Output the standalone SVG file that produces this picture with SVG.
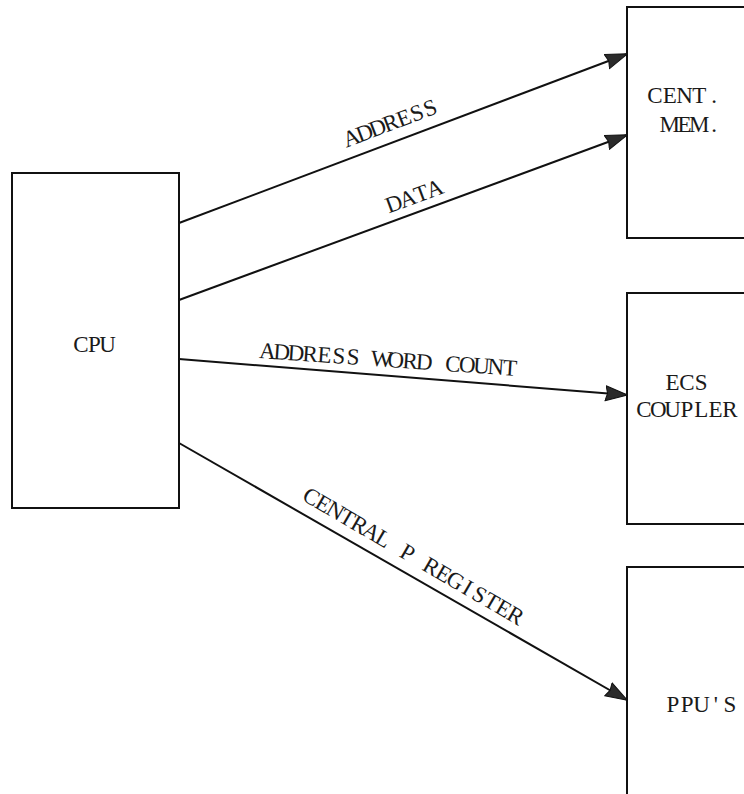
<svg xmlns="http://www.w3.org/2000/svg" width="744" height="794" viewBox="0 0 744 794">
  <style>
    .box { fill: #ffffff; stroke: #111111; stroke-width: 2; }
    .lbl { font-family: "Liberation Serif", "DejaVu Serif", serif; font-size: 23px; fill: #1a1a1a; text-anchor: middle; }
    .wire { stroke: #111111; stroke-width: 2; fill: none; marker-end: url(#arrow); }
  </style>
  <defs>
    <marker id="arrow" viewBox="0 0 23 17" refX="22" refY="8.5" markerWidth="23" markerHeight="17" markerUnits="userSpaceOnUse" orient="auto">
      <path d="M0.5,1 L22.5,8.5 L0.5,16 L2.5,8.5 Z" fill="#2b2b2b" stroke="#111111" stroke-width="1" stroke-linejoin="round"/>
    </marker>
  </defs>
  <rect width="744" height="794" fill="#ffffff"/>

  <g id="cpu">
    <rect class="box" x="12" y="173" width="167" height="335"/>
    <text class="lbl" x="81 94.5 107.5" y="352">CPU</text>
  </g>

  <g id="cent-mem">
    <rect class="box" x="627" y="7" width="200" height="231"/>
    <text class="lbl" x="655 669.75 684.5 699.25 714" y="103">CENT.</text>
    <text class="lbl" x="669.75 684.5 699.25 714" y="132">MEM.</text>
  </g>

  <g id="ecs-coupler">
    <rect class="box" x="627" y="293" width="200" height="231"/>
    <text class="lbl" x="672.6 686.9 701.2" y="390">ECS</text>
    <text class="lbl" x="644 658.3 672.6 686.9 701.2 715.5 729.8" y="417">COUPLER</text>
  </g>

  <g id="ppus">
    <rect class="box" x="627" y="567" width="200" height="260"/>
    <text class="lbl" x="673 687.25 701.5 715.75 730" y="712">PPU'S</text>
  </g>

  <g id="connectors">
    <line class="wire" x1="179" y1="223" x2="627" y2="54"/>
    <line class="wire" x1="179" y1="300" x2="627" y2="135"/>
    <line class="wire" x1="179" y1="359" x2="627" y2="395"/>
    <line class="wire" x1="179" y1="443" x2="627" y2="700"/>
    <text class="lbl" x="354.5 368.5 382.5 396.5 410.5 424.5 438.5" y="147" transform="rotate(-20.7 348 147)">ADDRESS</text>
    <text class="lbl" x="397 411.5 426 440.5" y="213" transform="rotate(-20.2 390 213)">DATA</text>
    <text class="lbl" x="267 281.3 295.6 309.9 324.2 338.5 352.8 367.1 381.4 395.7 410 424.3 438.6 452.9 467.2 481.5 495.8 510.1" y="358" transform="rotate(4 260 358)">ADDRESS WORD COUNT</text>
    <text class="lbl" x="308.5 322.4 336.3 350.2 364.1 378 391.9 405.8 419.7 433.6 447.5 461.4 475.3 489.2 503.1 517 530.9 544.8" y="500" transform="rotate(30.2 302 500)">CENTRAL P REGISTER</text>
  </g>
</svg>
